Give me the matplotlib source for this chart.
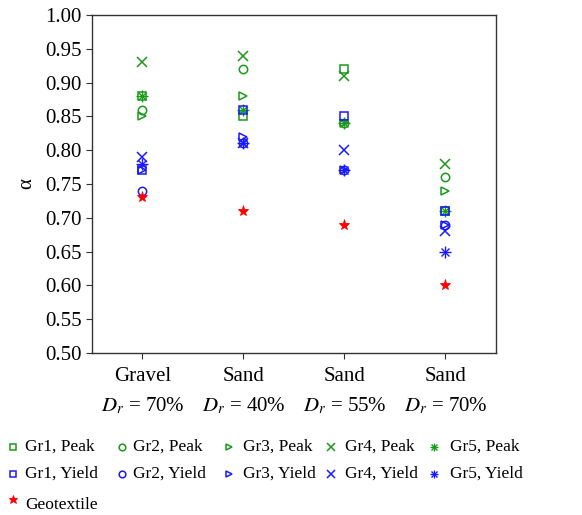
import matplotlib
matplotlib.use("Agg")
import matplotlib.pyplot as plt
from matplotlib.lines import Line2D

plt.rcParams['font.family'] = ['Liberation Serif', 'DejaVu Serif']
plt.rcParams['mathtext.fontset'] = 'stix'

categories = ["Gravel\n$D_r$ = 70%", "Sand\n$D_r$ = 40%", "Sand\n$D_r$ = 55%", "Sand\n$D_r$ = 70%"]

gr1_peak = [0.88, 0.85, 0.92, 0.71]
gr2_peak = [0.86, 0.92, 0.84, 0.76]
gr3_peak = [0.85, 0.88, 0.84, 0.74]
gr4_peak = [0.93, 0.94, 0.91, 0.78]
gr5_peak = [0.88, 0.86, 0.84, 0.71]
gr1_yield = [0.77, 0.86, 0.85, 0.71]
gr2_yield = [0.74, 0.81, 0.77, 0.69]
gr3_yield = [0.77, 0.82, 0.77, 0.69]
gr4_yield = [0.79, 0.81, 0.80, 0.68]
gr5_yield = [0.78, 0.81, 0.77, 0.65]
geotextile = [0.73, 0.71, 0.69, 0.60]

green = '#1a9a1a'
blue = '#1a1aff'
red = '#ff0000'

series = [
    ("Gr1, Peak", gr1_peak, 's', green),
    ("Gr2, Peak", gr2_peak, 'o', green),
    ("Gr3, Peak", gr3_peak, '>', green),
    ("Gr4, Peak", gr4_peak, 'x', green),
    ("Gr5, Peak", gr5_peak, 'ast', green),
    ("Gr1, Yield", gr1_yield, 's', blue),
    ("Gr2, Yield", gr2_yield, 'o', blue),
    ("Gr3, Yield", gr3_yield, '>', blue),
    ("Gr4, Yield", gr4_yield, 'x', blue),
    ("Gr5, Yield", gr5_yield, 'ast', blue),
    ("Geotextile", geotextile, '*', red),
]

fig = plt.figure(figsize=(5.82, 5.15), dpi=100)
ax = fig.add_axes([0.158, 0.3146, 0.694, 0.6564])
x = list(range(1, len(categories) + 1))


def draw(target, xs, ys, m, c, scale=1.0, **kw):
    add = target.add_line if hasattr(target, 'add_line') else target.add_artist
    if m == '*':
        add(Line2D(xs, ys, linestyle='none', marker='*', color=c,
                   markersize=8 * scale, markeredgewidth=0.6, **kw))
    elif m == 'ast':
        add(Line2D(xs, ys, linestyle='none', marker='+', color=c,
                   markersize=8 * scale, markeredgewidth=1.0, **kw))
        add(Line2D(xs, ys, linestyle='none', marker='x', color=c,
                   markersize=6 * scale, markeredgewidth=1.0, **kw))
    else:
        ms = 6 if m != 'x' else 7
        add(Line2D(xs, ys, linestyle='none', marker=m, color=c,
                   markersize=ms * scale, markerfacecolor='none',
                   markeredgewidth=1.1, **kw))


for label, vals, m, c in series:
    draw(ax, x, vals, m, c)

ax.set_xlim(0.5, 4.5)
ax.set_ylim(0.5, 1.0)
ax.set_yticks([0.5 + 0.05 * i for i in range(11)])
ax.set_yticklabels([f"{0.5 + 0.05 * i:.2f}" for i in range(11)])
ax.set_xticks(x)
ax.set_xticklabels(categories, linespacing=1.6)
ax.tick_params(labelsize=15, direction='out', length=4, color='#333333')
ax.tick_params(axis='x', pad=6)
for s in ax.spines.values():
    s.set_color('#333333')
    s.set_linewidth(1.0)
ax.set_ylabel("\u03b1", fontsize=15, labelpad=6)

# legend laid out manually (figure pixel positions)
W, H = 582.0, 515.0
col_marker_x = [13, 122, 229, 331, 434]
col_text_x = [25, 133, 243, 345, 450]
row_y = [447, 474, 505]
layout = {
    "Gr1, Peak": (0, 0), "Gr2, Peak": (1, 0), "Gr3, Peak": (2, 0), "Gr4, Peak": (3, 0), "Gr5, Peak": (4, 0),
    "Gr1, Yield": (0, 1), "Gr2, Yield": (1, 1), "Gr3, Yield": (2, 1), "Gr4, Yield": (3, 1), "Gr5, Yield": (4, 1),
    "Geotextile": (0, 2),
}
for label, vals, m, c in series:
    ci, ri = layout[label]
    mx = col_marker_x[ci] / W
    my = 1 - (row_y[ri] - (6 if m == '*' else 0)) / H
    draw(fig, [mx], [my], m, c, scale=0.8, transform=fig.transFigure)
    fig.text(col_text_x[ci] / W, 1 - row_y[ri] / H, label, fontsize=12.5,
             va='center', ha='left')

fig.savefig("out.png", dpi=100)
